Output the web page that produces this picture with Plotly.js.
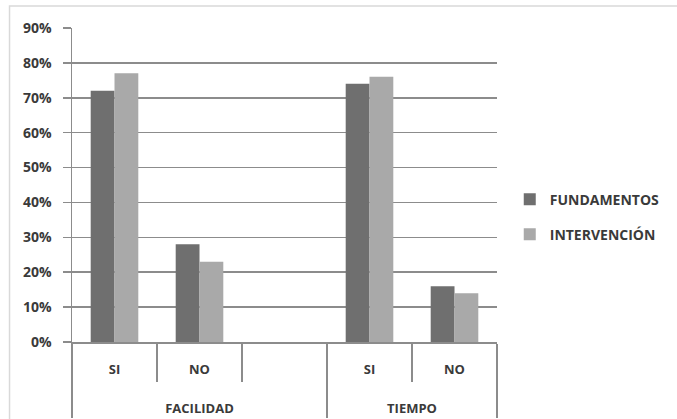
<!DOCTYPE html>
<html>
<head>
<meta charset="utf-8">
<script src="https://cdn.plot.ly/plotly-3.0.1.min.js"></script>
<style>html,body{margin:0;padding:0;background:#fff;}#chart{width:677px;height:419px;}</style>
</head>
<body>
<div id="chart"></div>
<script>
const groups = ['FACILIDAD', 'FACILIDAD', 'FACILIDAD', 'TIEMPO', 'TIEMPO'];
const answers = ['SI', 'NO', ' ', 'SI', 'NO'];
const fundamentos = [0.72, 0.28, null, 0.74, 0.16];
const intervencion = [0.77, 0.23, null, 0.76, 0.14];
const seriesNames = ['FUNDAMENTOS', 'INTERVENCIÓN'];
const yTicks = [0, 0.1, 0.2, 0.3, 0.4, 0.5, 0.6, 0.7, 0.8, 0.9];

// child labels get blank trailing lines so the group row sits lower, as in the reference
const answerLabels = answers.map(a => a + '<br>\u00a0<br>\u00a0');

const font = {family: 'Open Sans, Liberation Sans, sans-serif', size: 14, color: '#3a3a3a', weight: 700};
const xFont = Object.assign({}, font, {size: 13});
const gridGray = '#8c8c8c';

const traces = [
  {type: 'bar', name: seriesNames[0], x: [groups, answerLabels], y: fundamentos,
   marker: {color: '#6f6f6f'}, legendgroup: 'a', hoverinfo: 'skip'},
  {type: 'bar', name: seriesNames[1], x: [groups, answerLabels], y: intervencion,
   marker: {color: '#a9a9a9'}, legendgroup: 'b', hoverinfo: 'skip'}
];

const layout = {
  width: 677, height: 419,
  margin: {l: 72, r: 177, t: 28, b: 77},
  paper_bgcolor: '#ffffff', plot_bgcolor: '#ffffff',
  font: font,
  barmode: 'group', bargap: 0.44, bargroupgap: 0,
  showlegend: true,
  legend: {x: 1.03, y: 0.398, xanchor: 'left', yanchor: 'middle',
           font: font, tracegroupgap: 14, traceorder: 'grouped',
           bgcolor: 'rgba(0,0,0,0)'},
  xaxis: {type: 'multicategory', showline: true, linecolor: gridGray, linewidth: 1.5,
          showgrid: false, ticks: 'outside', tickson: 'boundaries', ticklen: 38,
          tickcolor: gridGray, tickwidth: 1.5, ticklabelstandoff: 15,
          showdividers: true, dividercolor: gridGray, dividerwidth: 1.5,
          tickfont: xFont, fixedrange: true},
  yaxis: {range: [0, 0.9], tickvals: yTicks, tickformat: '.0%', showgrid: true,
          gridcolor: gridGray, gridwidth: 1.5, showline: true, linecolor: gridGray,
          linewidth: 1.5, ticks: 'outside', ticklen: 8, tickcolor: gridGray, tickwidth: 1.5,
          ticklabelstandoff: 8, zeroline: false, tickfont: font, fixedrange: true},
  shapes: [
    {type: 'rect', xref: 'paper', yref: 'paper', x0: -0.147, x1: 1.45, y0: -0.35, y1: 1.07,
     line: {color: '#d9d9d9', width: 1.5}, fillcolor: 'rgba(0,0,0,0)', layer: 'below'}
  ]
};

Plotly.newPlot('chart', traces, layout, {staticPlot: true});
</script>
</body>
</html>
